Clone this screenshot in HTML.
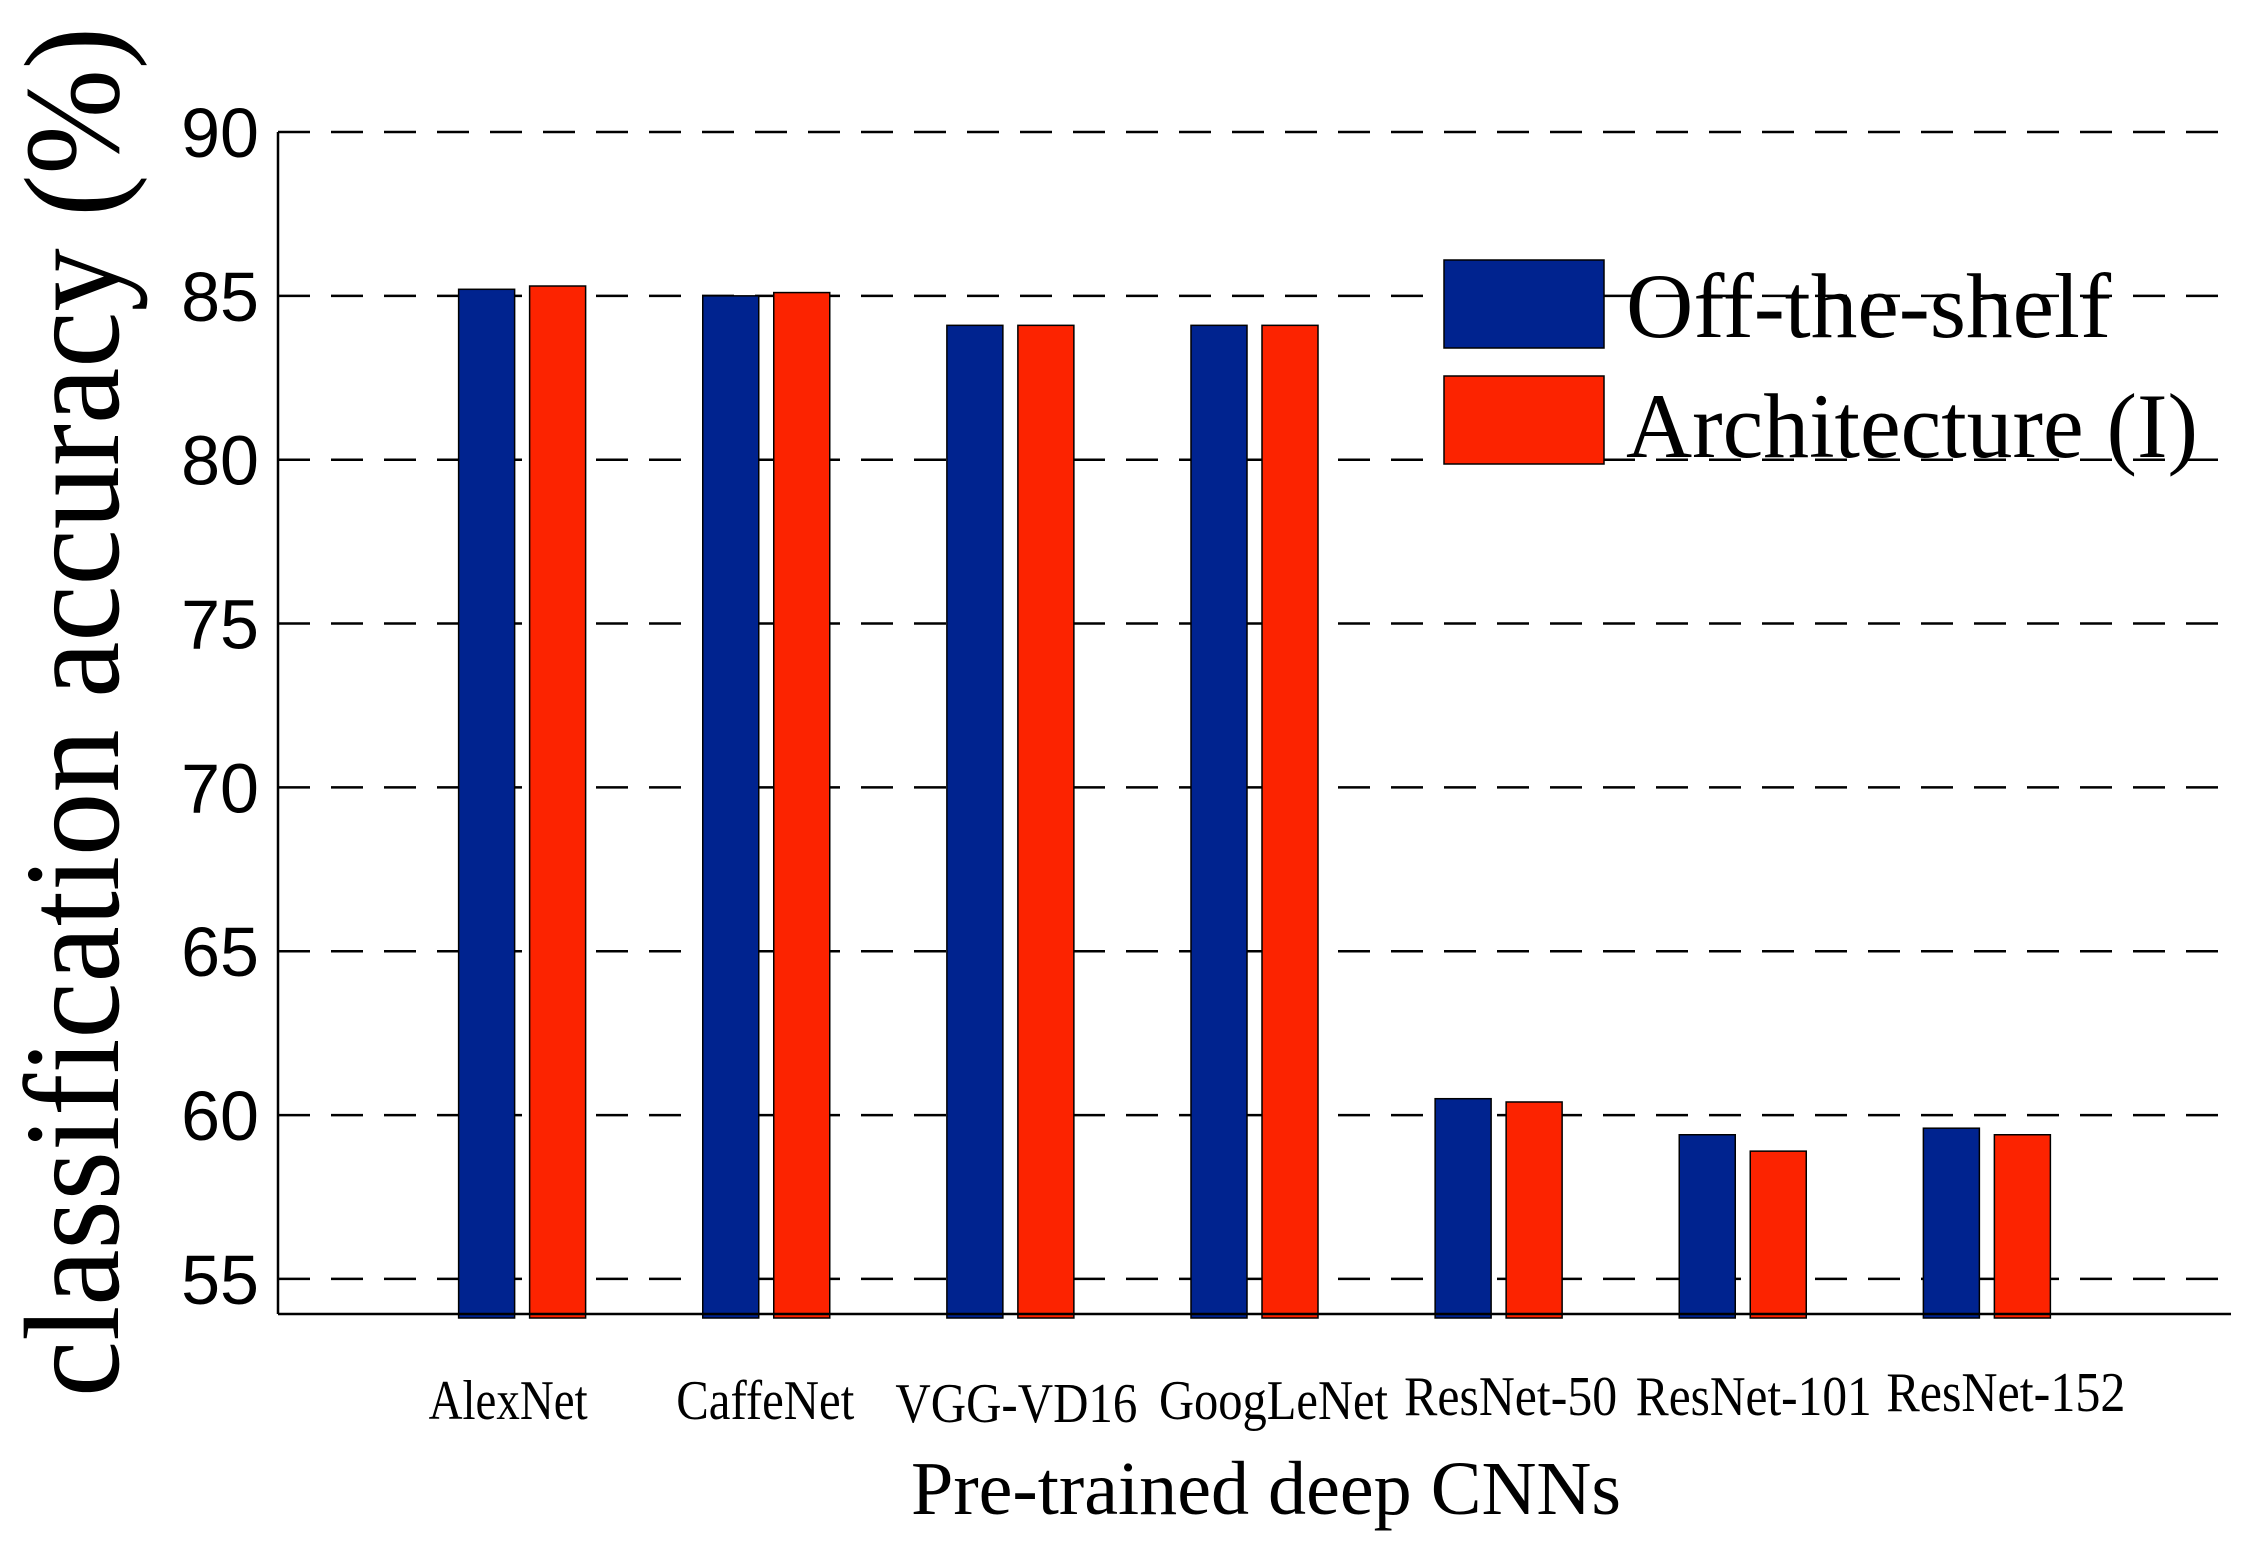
<!DOCTYPE html>
<html><head><meta charset="utf-8"><style>
html,body{margin:0;padding:0;background:#fff;}
svg{display:block;}
</style></head><body>
<svg id="chart" width="2266" height="1553" viewBox="0 0 2266 1553" xmlns="http://www.w3.org/2000/svg">
<g id="grid"></g>
<g id="bars"></g>
<g id="axes"></g>
<text transform="translate(118,712) rotate(-90)" text-anchor="middle" font-family="Liberation Serif, serif" font-size="136" textLength="1370" lengthAdjust="spacingAndGlyphs">classification accuracy (%)</text>
<text x="1266" y="1514" text-anchor="middle" font-family="Liberation Serif, serif" font-size="76" textLength="710" lengthAdjust="spacingAndGlyphs">Pre-trained deep CNNs</text>
<g>
<rect x="1444" y="260" width="160" height="88" fill="#00238f" stroke="#000" stroke-width="1.5"/>
<text x="1626" y="337" font-family="Liberation Serif, serif" font-size="92" textLength="485" lengthAdjust="spacingAndGlyphs">Off-the-shelf</text>
<rect x="1444" y="376" width="160" height="88" fill="#fc2300" stroke="#000" stroke-width="1.5"/>
<text x="1626" y="457" font-family="Liberation Serif, serif" font-size="92" textLength="572" lengthAdjust="spacingAndGlyphs">Architecture (I)</text>
</g>
</svg>
<script>
const categories = ["AlexNet","CaffeNet","VGG-VD16","GoogLeNet","ResNet-50","ResNet-101","ResNet-152"];
const offTheShelf = [85.2, 85.0, 84.1, 84.1, 60.5, 59.4, 59.6];
const architectureI = [85.3, 85.1, 84.1, 84.1, 60.4, 58.9, 59.4];
const yTicks = [55, 60, 65, 70, 75, 80, 85, 90];

const NS = "http://www.w3.org/2000/svg";
const L = 278, R = 2231, T = 132, B = 1314;
const yMin = 53.93, yMax = 90;
const xMin = 0, xMax = 8;
const labelDx = [-14, -1, 6, 19, 12, 11, 19];
const labelDy = [0, 0, 3, 0, -4, -4, -8];
const labelW = [159, 178, 242, 229, 213, 236, 239];
function xs(v){ return L + (v - xMin) / (xMax - xMin) * (R - L); }
function ys(v){ return T + (yMax - v) / (yMax - yMin) * (B - T); }
function mk(tag, attrs, parent){
  const e = document.createElementNS(NS, tag);
  for (const k in attrs) e.setAttribute(k, attrs[k]);
  parent.appendChild(e);
  return e;
}
const grid = document.getElementById('grid');
const bars = document.getElementById('bars');
const axes = document.getElementById('axes');

yTicks.forEach(t => {
  const ln = mk('line', {x1: L, x2: R, y1: ys(t), y2: ys(t), stroke: '#000', 'stroke-width': 2.5, 'stroke-dasharray': '32,21'}, grid);
  
  
  const tx = mk('text', {x: 259, y: ys(t) + 25, 'text-anchor': 'end', 'font-family': 'Liberation Sans, sans-serif', 'font-size': 70}, axes);
  tx.textContent = t;
  
  
});

const bw = 56, off = 35.5;
categories.forEach((c, i) => {
  const cx = xs(i + 1);
  const b1 = mk('rect', {x: cx - off - bw/2, y: ys(offTheShelf[i]), width: bw, height: B + 4 - ys(offTheShelf[i]), fill: '#00238f', stroke: '#000', 'stroke-width': 1.5}, bars);
  
  
  const b2 = mk('rect', {x: cx + off - bw/2, y: ys(architectureI[i]), width: bw, height: B + 4 - ys(architectureI[i]), fill: '#fc2300', stroke: '#000', 'stroke-width': 1.5}, bars);
  
  
  const lb = mk('text', {x: cx + labelDx[i], y: 1419 + labelDy[i], 'text-anchor': 'middle', 'font-family': 'Liberation Serif, serif', 'font-size': 56, textLength: labelW[i], lengthAdjust: 'spacingAndGlyphs'}, axes);
  lb.textContent = c;
  
  
});

const yax = mk('line', {x1: L, x2: L, y1: T, y2: B, stroke: '#000', 'stroke-width': 2.5}, axes);


const xax = mk('line', {x1: L, x2: R, y1: B, y2: B, stroke: '#000', 'stroke-width': 2.5}, axes);


</script>
</body></html>
